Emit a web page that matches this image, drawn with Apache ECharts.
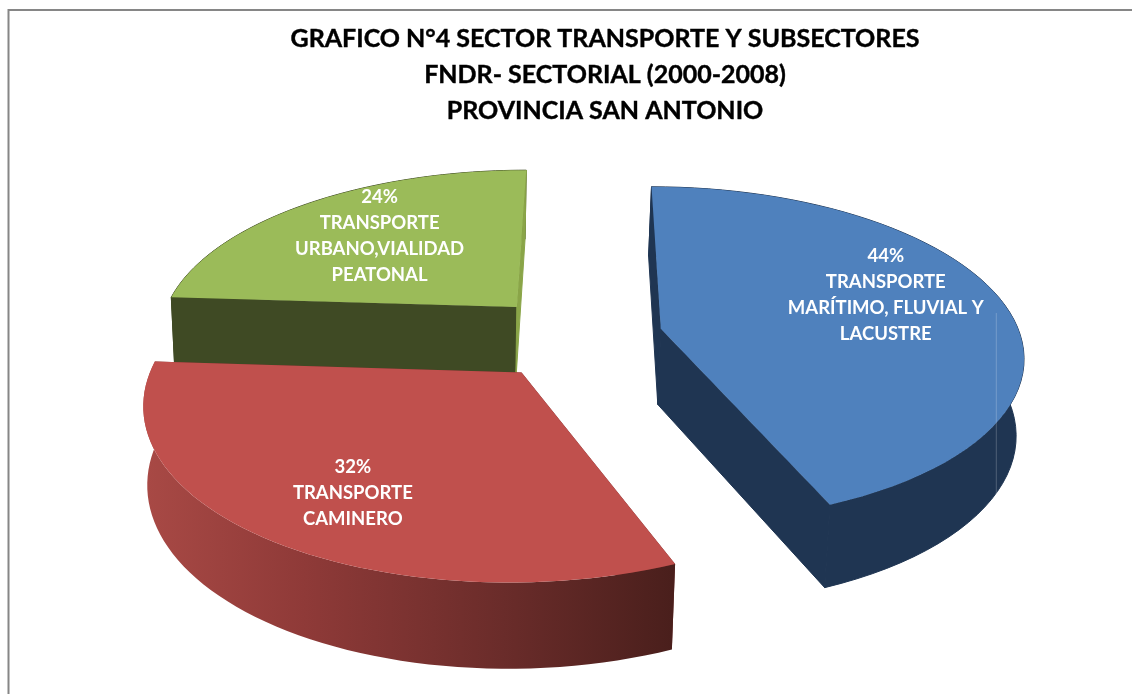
<!DOCTYPE html>
<html>
<head>
<meta charset="utf-8">
<style>
  html, body { margin: 0; padding: 0; background: #fff; }
  #chart { width: 1132px; height: 694px; }
</style>
<script src="https://cdn.jsdelivr.net/npm/echarts@6/dist/echarts.min.js"></script>
</head>
<body>
<div id="chart"></div>
<script>
var titleLines = [
    'GRAFICO N°4 SECTOR TRANSPORTE Y SUBSECTORES',
    'FNDR- SECTORIAL (2000-2008)',
    'PROVINCIA SAN ANTONIO'
];
var categories = [
    'TRANSPORTE\nMARÍTIMO, FLUVIAL Y\nLACUSTRE',
    'TRANSPORTE\nCAMINERO',
    'TRANSPORTE\nURBANO,VIALIDAD\nPEATONAL'
];
// labels show these rounded to 44, 32, 24
var values = [43.8, 32.2, 24];

var topColors = ['#4f81bd', '#c0504d', '#9bbb59'];
var startFaceColors = ['#1f3552', '#6a2c2a', '#3f4a24'];
var endFaceColors = ['#1f3552', '#6a2c2a', '#8aa548'];
var drawOrder = [2, 0, 1];
var labelAngles = [72, 212.5, 318];
var labelRadius = [0.69, 0.73, 0.65];

// fake 3d pie: a tilted disc seen in perspective
var centerX = 575, centerY = 337, vanishX = 590;
var radius = 360, explodeX = 88, explodeY = 92;
var tilt = 0.461, perspective = 0.152, depth = 76;
var shrinkX = 437, bottomShrink = 0.0135;
var seamAngle = 122;

var total = values.reduce(function (a, b) { return a + b; }, 0);

function sliceAngles(i) {
    var before = 0;
    for (var j = 0; j < i; j++) before += values[j];
    var a0 = before / total * Math.PI * 2;
    var a1 = (before + values[i]) / total * Math.PI * 2;
    return [a0, a1];
}

function project(x, y, bottom) {
    var p = 1 / (1 - perspective * y / radius);
    var sx = vanishX + (x + centerX - vanishX) * p;
    return [
        bottom ? sx - (sx - shrinkX) * bottomShrink : sx,
        centerY + y * tilt * p + (bottom ? depth * (0.6 * p + 0.4) : 0)
    ];
}

function slicePoint(i, angle, r, bottom) {
    var a = sliceAngles(i);
    var mid = (a[0] + a[1]) / 2;
    var ox = Math.sin(mid) * explodeX, oy = -Math.cos(mid) * explodeY;
    return project(ox + Math.sin(angle) * r, oy - Math.cos(angle) * r, bottom);
}

function arcPoints(i, bottom) {
    var a = sliceAngles(i), pts = [];
    var steps = 60;
    for (var n = 0; n <= steps; n++) {
        pts.push(slicePoint(i, a[0] + (a[1] - a[0]) * n / steps, radius, bottom));
    }
    return pts;
}

function poly(points, fill, z2, edge) {
    return {
        type: 'polygon',
        z2: z2,
        shape: { points: points },
        style: { fill: fill, stroke: edge || null, lineWidth: edge ? 1 : 0 }
    };
}

var redWall = new echarts.graphic.LinearGradient(146, 0, 672, 0, [
    { offset: 0, color: '#a84945' },
    { offset: 0.3, color: '#8f3a38' },
    { offset: 0.68, color: '#6a2c2a' },
    { offset: 1, color: '#4a1f1c' }
], true);
var wallFills = ['#1f3552', redWall, '#3f4a24'];

function renderSlice(params, api) {
    var i = api.value(0);
    var topArc = arcPoints(i, false);
    var bottomArc = arcPoints(i, true);
    var apexTop = slicePoint(i, 0, 0, false);
    var apexBottom = slicePoint(i, 0, 0, true);
    var labelPos = slicePoint(i, labelAngles[i] * Math.PI / 180, radius * labelRadius[i], false);
    var last = topArc.length - 1;
    var isRed = i === 1;
    // red wall hides its cut faces, on the other slices the cut face is in front
    var children = [
        poly(topArc.concat(bottomArc.slice().reverse()), wallFills[i], isRed ? 2 : 0, isRed ? null : wallFills[i]),
        poly([apexTop, topArc[0], bottomArc[0], apexBottom], startFaceColors[i], 1, isRed ? null : startFaceColors[i]),
        poly([apexTop, topArc[last], bottomArc[last], apexBottom], endFaceColors[i], 1, isRed ? null : endFaceColors[i]),
        poly([apexTop].concat(topArc), topColors[i], 3),
        {
            type: 'text',
            z2: 5,
            style: {
                x: labelPos[0],
                y: labelPos[1],
                text: Math.round(values[i]) + '%\n' + categories[i],
                fill: '#fff',
                font: 'bold 18.5px Lato, sans-serif',
                lineHeight: 26,
                align: 'center',
                verticalAlign: 'middle'
            }
        }
    ];
    if (i === 0) {
        // thin light seam on the blue wall
        var seamTop = slicePoint(0, seamAngle * Math.PI / 180, radius, false);
        var seamBottom = slicePoint(0, seamAngle * Math.PI / 180, radius, true);
        children.push({
            type: 'line',
            z2: 4,
            shape: { x1: seamTop[0], y1: seamTop[1] - 110, x2: seamTop[0], y2: seamBottom[1] },
            style: { stroke: 'rgba(255,255,255,0.22)', lineWidth: 1 }
        });
    }
    return { type: 'group', children: children };
}

var myChart = echarts.init(document.getElementById('chart'));

var option = {
    animation: false,
    backgroundColor: '#fff',
    title: {
        text: titleLines.join('\n'),
        left: 600,
        top: 16,
        textAlign: 'center',
        textStyle: {
            color: '#000',
            fontFamily: 'Lato, sans-serif',
            fontWeight: 'bold',
            fontSize: 25,
            lineHeight: 36,
            textBorderColor: '#000',
            textBorderWidth: 0.4
        }
    },
    graphic: [{
        type: 'rect',
        shape: { x: 8.5, y: 10, width: 1400, height: 900 },
        style: { fill: 'none', stroke: '#868686', lineWidth: 2 },
        silent: true
    }],
    xAxis: { show: false },
    yAxis: { show: false },
    series: [{
        type: 'custom',
        coordinateSystem: 'none',
        renderItem: renderSlice,
        data: drawOrder.map(function (i) { return [i, values[i]]; }),
        silent: true
    }]
};

myChart.setOption(option);
</script>
</body>
</html>
